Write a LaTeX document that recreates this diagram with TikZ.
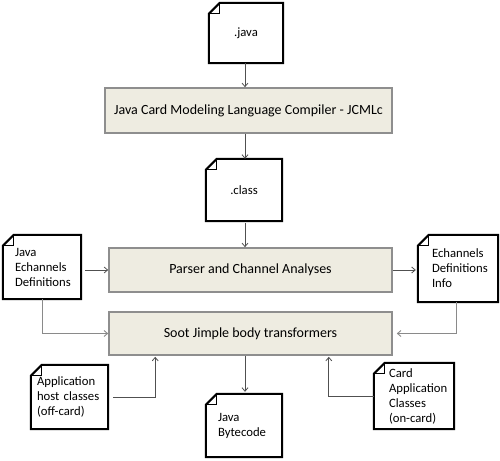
\documentclass[tikz,border=0pt]{standalone}
\usepackage{fontspec}
\setmainfont{Carlito}
\usetikzlibrary{arrows.meta,calc}
\definecolor{boxfill}{HTML}{EEECE1}
\definecolor{boxline}{HTML}{8E8E8E}
\definecolor{darkconn}{HTML}{505050}
\definecolor{lightconn}{HTML}{8A8A8A}
\tikzset{
  procbox/.style={draw=boxline, line width=1.6pt, fill=boxfill, inner sep=0pt,
    font=\fontsize{14}{16}\selectfont},
  docnode/.style={inner sep=0pt, align=left, font=\fontsize{12.7}{15}\selectfont},
  docline/.style={draw=black, line width=2pt, line join=miter},
  foldline/.style={draw=black, line width=1pt},
  conn/.style={draw=darkconn, line width=0.8pt, -{Straight Barb[length=3.5pt,width=6pt]}},
  connlight/.style={draw=lightconn, line width=0.9pt, -{Straight Barb[length=3.5pt,width=6pt]}}
}
\begin{document}
\begin{tikzpicture}[x=1pt,y=-1pt]
\useasboundingbox (0,0) rectangle (500,460);
% process boxes
\node[procbox, minimum width=287pt, minimum height=45pt] (jcml) at (248.5,110.5) {Java Card Modeling Language Compiler - JCMLc};
\node[procbox, minimum width=283pt, minimum height=44pt] (parser) at (250.5,270) {Parser and Channel Analyses};
\node[procbox, minimum width=283pt, minimum height=43pt] (soot) at (250.5,333.5) {Soot Jimple body transformers};
% documents
\node[docnode, align=center, minimum width=74pt, minimum height=60pt] (java) at (246,33) {.java};
\node[docnode, align=center, minimum width=76pt, minimum height=62pt] (cls) at (244,190) {.class};
\node[docnode, text width=54pt, minimum width=78pt, minimum height=64pt] (jed) at (42,267) {Java\\Echannels\\Definitions};
\node[docnode, text width=52pt, minimum width=80pt, minimum height=67pt] (edi) at (458,268.5) {Echannels\\Definitions\\Info};
\node[docnode, text width=65pt, minimum width=77pt, minimum height=64pt] (app) at (69.5,397) {Application\\host classes\\(off-card)};
\node[docnode, text width=52pt, minimum width=76pt, minimum height=63pt] (jbc) at (244,425.5) {Java\\Bytecode};
\node[docnode, text width=50pt, minimum width=80pt, minimum height=66pt] (card) at (414,396) {Card\\Application\\Classes\\(on-card)};
\foreach \n in {java,cls,jed,edi,app,jbc,card}{
  \draw[docline] ([yshift=-11pt]\n.north west) -- ([xshift=11pt]\n.north west) -- (\n.north east) -- (\n.south east) -- (\n.south west) -- cycle;
  \draw[foldline] ([xshift=11pt]\n.north west) -- ([xshift=11pt,yshift=-11pt]\n.north west) -- ([yshift=-11pt]\n.north west);
}
% connectors
\draw[conn] (java.south -| 245,0) -- (jcml.north -| 245,0);
\draw[conn] (jcml.south -| 245,0) -- (cls.north -| 245,0);
\draw[conn, shorten <=2pt] (cls.south -| 245,0) -- (parser.north -| 245,0);
\draw[conn, shorten <=4pt] (jed.east |- parser.west) -- (parser.west);
\draw[conn, shorten >=2pt] (parser.east) -- (edi.west |- parser.east);
\draw[connlight] (jed.south) |- (soot.west);
\draw[connlight, shorten >=4pt] ([xshift=-2pt]edi.south) |- (soot.east);
\coordinate (appin) at ([xshift=47pt]soot.south west);
\coordinate (cardin) at ([xshift=-64pt]soot.south east);
\draw[conn, shorten <=5pt, shorten >=1pt] (app.east) -| (appin);
\draw[conn, shorten >=1pt] (card.west) -| (cardin);
\draw[conn, shorten >=2pt] (soot.south -| 245,0) -- (jbc.north -| 245,0);
\end{tikzpicture}
\end{document}
